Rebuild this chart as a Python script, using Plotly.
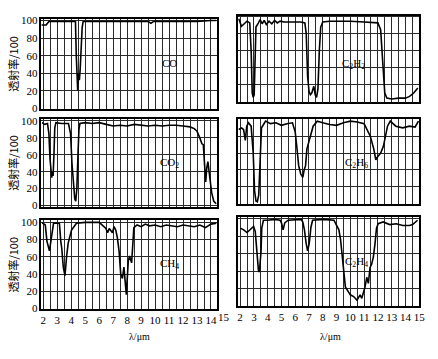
import plotly.graph_objects as go

# ---------------- data (wavelength in µm, transmittance in %) ----------------
wl_co = [1.86, 2.0, 2.2, 2.3, 2.4, 2.6, 3.0, 3.5, 4.0, 4.3, 4.36, 4.42, 4.46, 4.52, 4.58, 4.64, 4.7, 4.78, 4.85,
         5.5, 6.5, 7.5, 8.5, 9.5, 9.7, 9.9, 11, 12, 13, 14, 14.4]
t_co = [95, 95, 95, 97, 99, 99, 99, 99, 99, 99, 60, 25, 20, 40, 32, 45, 70, 92, 99,
        99, 99, 99, 99, 99, 97, 99, 99, 99, 99, 100, 100]

wl_co2 = [1.9, 2.1, 2.3, 2.4, 2.48, 2.55, 2.6, 2.65, 2.7, 2.76, 2.82, 2.9, 3.3, 3.8, 3.95, 4.05, 4.15, 4.25, 4.32,
          4.4, 4.48, 4.55, 4.62, 5.0, 5.5, 6.0, 6.5, 7.0, 7.5, 8.0, 8.5, 9.0, 9.5, 10.0, 10.5, 11.0, 11.5, 12.0,
          12.5, 12.8, 13.0, 13.2, 13.35, 13.45, 13.55, 13.62, 13.7, 13.78, 13.85, 13.95, 14.05, 14.2, 14.35, 14.4]
t_co2 = [98, 96, 97, 85, 55, 38, 33, 40, 35, 60, 92, 98, 97, 97, 85, 50, 25, 8, 5,
         20, 60, 90, 97, 98, 97, 98, 96, 94, 95, 94, 96, 95, 94, 95, 94, 95, 95, 94,
         93, 91, 88, 80, 73, 72, 45, 28, 45, 52, 42, 25, 15, 5, 3, 2]

wl_ch4 = [1.9, 1.98, 2.14, 2.26, 2.44, 2.61, 2.73, 3.0, 3.15, 3.25, 3.32, 3.43, 3.55, 3.67, 3.78, 4.02, 4.37, 5.0,
          5.5, 6.0, 6.48, 6.6, 6.72, 6.95, 7.06, 7.19, 7.3, 7.42, 7.54, 7.66, 7.77, 7.85, 7.94, 8.08, 8.17, 8.32,
          8.41, 8.48, 8.71, 9.0, 9.3, 9.6, 10.0, 10.4, 10.8, 11.2, 11.6, 12.0, 12.4, 12.8, 13.2, 13.6, 14.0, 14.4]
t_ch4 = [99, 99, 97, 78, 67, 86, 99, 99, 99, 78, 70, 48, 38, 61, 76, 91, 99, 100,
         100, 100, 93, 88, 93, 88, 95, 91, 82, 67, 40, 35, 48, 29, 16, 55, 61, 53,
         72, 94, 97, 95, 98, 96, 97, 95, 97, 96, 95, 97, 96, 95, 97, 94, 98, 99]

wl_c2h2 = [1.9, 2.1, 2.3, 2.5, 2.7, 2.8, 2.88, 2.95, 3.02, 3.08, 3.15, 3.3, 3.45, 3.6, 3.75, 3.9, 4.1, 4.3, 4.5,
           4.7, 4.9, 5.2, 5.8, 6.4, 6.7, 6.8, 6.9, 7.0, 7.1, 7.2, 7.35, 7.45, 7.55, 7.65, 7.75, 7.85, 8.0, 8.5,
           9.0, 10.0, 11.0, 12.0, 12.2, 12.35, 12.5, 12.65, 13.0, 13.5, 14.0, 14.3, 14.6, 14.9]
t_c2h2 = [98, 89, 92, 95, 93, 60, 10, 5, 8, 40, 88, 92, 97, 92, 96, 91, 95, 92, 96,
          93, 95, 94, 94, 94, 93, 80, 30, 12, 8, 10, 18, 8, 5, 15, 60, 88, 94, 95,
          95, 95, 94, 93, 85, 45, 10, 4, 3, 4, 4, 6, 10, 16]

wl_c2h6 = [1.9, 2.1, 2.25, 2.38, 2.48, 2.6, 2.8, 2.95, 3.05, 3.15, 3.25, 3.35, 3.45, 3.55, 3.7, 3.85, 4.2, 4.6,
           5.0, 5.4, 5.8, 6.0, 6.1, 6.25, 6.4, 6.55, 6.65, 6.75, 6.85, 6.95, 7.1, 7.3, 7.6, 8.0, 8.5, 9.0, 9.5,
           10.0, 10.5, 11.0, 11.2, 11.45, 11.7, 11.85, 12.0, 12.2, 12.4, 12.55, 12.7, 12.9, 13.3, 13.8, 14.3,
           14.7, 14.95]
t_c2h6 = [88, 90, 88, 75, 92, 96, 92, 60, 15, 3, 2, 10, 50, 90, 94, 98, 95, 96,
          93, 95, 96, 85, 70, 45, 35, 31, 40, 45, 65, 72, 80, 92, 98, 96, 94, 93, 96,
          98, 97, 95, 88, 80, 65, 52, 56, 60, 68, 80, 92, 98, 92, 90, 92,
          91, 98]

wl_c2h4 = [2.02, 2.26, 2.5, 2.74, 2.98, 3.1, 3.21, 3.33, 3.4, 3.52, 3.57, 3.69, 4.0, 4.5, 4.9, 5.0, 5.12, 5.24,
           5.48, 6.0, 6.43, 6.55, 6.67, 6.79, 6.9, 7.02, 7.14, 7.26, 8.0, 8.81, 8.93, 9.17, 9.29, 9.4, 9.52,
           9.64, 9.76, 10.0, 10.24, 10.48, 10.71, 10.83, 11.07, 11.19, 11.31, 11.43, 11.55, 11.67, 11.79, 11.9,
           12.02, 12.38, 12.86, 13.33, 13.81, 14.29, 14.52, 14.88]
t_c2h4 = [89, 87, 84, 87, 91, 85, 63, 41, 39, 63, 89, 98, 98, 99, 98, 95, 87, 95,
          98, 99, 99, 96, 87, 72, 63, 72, 90, 98, 99, 98, 94, 87, 76, 57, 37,
          22, 19, 13, 11, 7, 13, 9, 22, 33, 26, 44, 48, 56, 71, 89,
          94, 96, 93, 94, 92, 92, 93, 98]

x_ticks = list(range(2, 16))
y_ticks = [0, 20, 40, 60, 80, 100]

# ---------------- layout helpers ----------------
W, H = 438, 359
SERIF = "Liberation Serif"
GRID = "#2a2a2a"


def px(x):
    return x / W


def py(y):
    return 1 - y / H


panels = [
    # name, wl, t, label, xdom(px), ydom(px top,bottom), xrange, yrange, label pos, left?, bottom?
    ("co", wl_co, t_co, "CO", (41, 219), (15, 108), (1.859, 14.394), (-1.1, 102.2), (11.0, 52), True, False),
    ("c2h2", wl_c2h2, t_c2h2, "C<sub>2</sub>H<sub>2</sub>", (241, 425), (12, 101), (1.857, 15.0), (-1.15, 101.5), (10.24, 44), False, False),
    ("co2", wl_co2, t_co2, "CO<sub>2</sub>", (41, 219), (118, 208), (1.859, 14.394), (-1.5, 102.3), (11.06, 50), True, False),
    ("c2h6", wl_c2h6, t_c2h6, "C<sub>2</sub>H<sub>6</sub>", (241, 425), (118, 205), (1.857, 15.0), (-0.5, 100.5), (10.48, 48), False, False),
    ("ch4", wl_ch4, t_ch4, "CH<sub>4</sub>", (41, 219), (222, 313), (1.859, 14.394), (-0.8, 102.3), (11.06, 52), True, True),
    ("c2h4", wl_c2h4, t_c2h4, "C<sub>2</sub>H<sub>4</sub>", (241, 425), (218, 310), (1.857, 15.0), (0, 102.2), (10.48, 50), False, True),
]

fig = go.Figure()
annotations = []
layout = dict(
    width=W, height=H,
    margin=dict(l=0, r=0, t=0, b=0),
    paper_bgcolor="white", plot_bgcolor="white",
    showlegend=False,
    font=dict(family=SERIF, size=11, color="black"),
)

for i, (name, wl, t, label, xd, yd, xr, yr, lp, left, bottom) in enumerate(panels):
    n = "" if i == 0 else str(i + 1)
    xa, ya = "x" + n, "y" + n
    fig.add_trace(go.Scatter(x=wl, y=t, mode="lines", xaxis=xa, yaxis=ya,
                             line=dict(color="black", width=1.6), hoverinfo="skip"))
    layout["xaxis" + n] = dict(
        domain=[px(xd[0]), px(xd[1])], range=list(xr), anchor=ya,
        tickmode="array", tickvals=x_ticks, ticktext=[str(v) for v in x_ticks],
        showticklabels=bottom, ticks="", showgrid=True, gridcolor=GRID, gridwidth=1,
        minor=dict(dtick=0.5, tick0=2, showgrid=True, gridcolor=GRID, gridwidth=1),
        showline=True, linecolor="black", linewidth=1.5, mirror=True, zeroline=False,
        tickfont=dict(family=SERIF, size=11, color="black"),
    )
    layout["yaxis" + n] = dict(
        domain=[py(yd[1]), py(yd[0])], range=list(yr), anchor=xa,
        tickmode="array", tickvals=y_ticks, ticktext=[str(v) for v in y_ticks],
        showticklabels=left, ticks="", showgrid=True, gridcolor=GRID, gridwidth=1.3,
        showline=True, linecolor="black", linewidth=1.5, mirror=True, zeroline=False,
        tickfont=dict(family=SERIF, size=11, color="black"),
    )
    annotations.append(dict(x=lp[0], y=lp[1], xref=xa, yref=ya, text=label, showarrow=False,
                            xanchor="center", yanchor="middle",
                            font=dict(family=SERIF, size=11, color="black")))
    if left:
        annotations.append(dict(x=px(12), y=py((yd[0] + yd[1]) / 2), xref="paper", yref="paper",
                                text="透射率/100", textangle=-90, showarrow=False,
                                xanchor="center", yanchor="middle",
                                font=dict(family="Noto Sans CJK SC", size=11, color="black")))
    if left and bottom:
        # final tick label of the left panels sits just beyond the frame
        annotations.append(dict(x=px(227), y=py(321), xref="paper", yref="paper", text="15",
                                showarrow=False, xanchor="center", yanchor="middle",
                                font=dict(family=SERIF, size=11, color="black")))

annotations.append(dict(x=px(141), y=py(341), xref="paper", yref="paper", text="λ/μm",
                        showarrow=False, xanchor="center", yanchor="middle",
                        font=dict(family=SERIF, size=10, color="black")))
annotations.append(dict(x=px(335), y=py(341), xref="paper", yref="paper", text="λ/μm",
                        showarrow=False, xanchor="center", yanchor="middle",
                        font=dict(family=SERIF, size=10, color="black")))

layout["annotations"] = annotations
fig.update_layout(**layout)
fig.write_html("out.html")
